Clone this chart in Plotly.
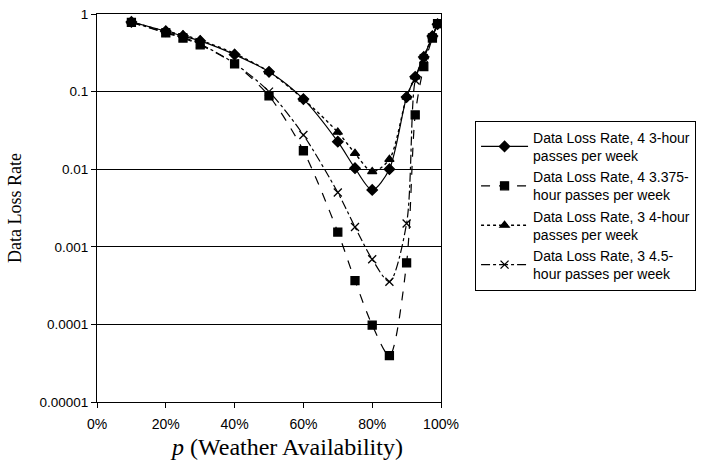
import plotly.graph_objects as go

# Weather availability p (fraction) at which the loss rates were computed
p_values = [0.10, 0.20, 0.25, 0.30, 0.40, 0.50, 0.60, 0.70, 0.75, 0.80,
            0.85, 0.90, 0.925, 0.95, 0.975, 0.99]

loss_4x3h = [0.79, 0.60, 0.52, 0.45, 0.30, 0.18, 0.080, 0.0226, 0.0103, 0.0054,
             0.0100, 0.085, 0.155, 0.28, 0.52, 0.74]
loss_4x3375h = [0.78, 0.57, 0.49, 0.40, 0.227, 0.088, 0.0173, 0.00155, 0.000366, 0.000098,
                0.0000395, 0.00062, 0.050, 0.21, 0.49, 0.75]
loss_3x4h = [0.79, 0.60, 0.54, 0.46, 0.31, 0.18, 0.080, 0.030, 0.016, 0.0093,
             0.0134, 0.085, 0.155, 0.28, 0.52, 0.74]
loss_3x45h = [0.78, 0.58, 0.50, 0.41, 0.23, 0.100, 0.0276, 0.0050, 0.0018, 0.00069,
              0.000355, 0.0020, 0.14, 0.27, 0.50, 0.74]

series_names = [
    "Data Loss Rate, 4 3-hour<br>passes per week",
    "Data Loss Rate, 4 3.375-<br>hour passes per week",
    "Data Loss Rate, 3 4-hour<br>passes per week",
    "Data Loss Rate, 3 4.5-<br>hour passes per week",
]

y_tick_vals = [1e-5, 1e-4, 1e-3, 1e-2, 1e-1, 1]
y_tick_text = ["0.00001", "0.0001", "0.001", "0.01", "0.1", "1"]
x_tick_vals = [0, 0.2, 0.4, 0.6, 0.8, 1.0]
x_tick_text = ["0%", "20%", "40%", "60%", "80%", "100%"]

styles = [
    (loss_4x3h, "solid", "diamond", 8, 1.2),
    (loss_4x3375h, "dash", "square", 8, 1.2),
    (loss_3x4h, "dot", "triangle-up", 8, 1.4),
    (loss_3x45h, "dashdot", "x-thin-open", 8, 1.2),
]

fig = go.Figure()
for (vals, dash, symbol, size, lw), name in zip(styles, series_names):
    fig.add_trace(go.Scatter(
        x=p_values, y=vals, name=name, mode="lines+markers",
        line=dict(color="black", width=lw, dash=dash, shape="spline", smoothing=0.8),
        marker=dict(symbol=symbol, size=size, color="black",
                    line=dict(color="black", width=1.3)),
    ))

# x-axis title, placed as a free annotation below the tick labels
fig.add_annotation(
    text="<i>p</i> (Weather Availability)", xref="paper", yref="paper",
    x=0.552, y=-0.116, xanchor="center", yanchor="middle", showarrow=False,
    font=dict(family="Liberation Serif, Times New Roman", size=24, color="black"),
)

fig.update_layout(
    width=708, height=466,
    margin=dict(l=97, r=267, t=14, b=64, autoexpand=False),
    paper_bgcolor="white", plot_bgcolor="white",
    font=dict(family="Liberation Sans, Arial", size=14, color="black"),
    showlegend=True,
    legend=dict(
        x=1.099, y=0.725, xanchor="left", yanchor="top",
        bordercolor="black", borderwidth=1, bgcolor="white",
        font=dict(family="Liberation Sans, Arial", size=14, color="black"),
        itemwidth=47, tracegroupgap=5,
    ),
    xaxis=dict(
        range=[0, 1], tickvals=x_tick_vals, ticktext=x_tick_text,
        showgrid=False, zeroline=False,
        showline=True, linecolor="black", linewidth=1, mirror=True,
        ticks="outside", ticklen=5, tickcolor="black",
        ticklabelstandoff=4,
        tickfont=dict(size=14),
    ),
    yaxis=dict(
        type="log", range=[-5, 0], tickvals=y_tick_vals, ticktext=y_tick_text,
        showgrid=True, gridcolor="black", gridwidth=1, zeroline=False,
        showline=True, linecolor="black", linewidth=1, mirror=True,
        ticks="outside", ticklen=5, tickcolor="black",
        tickfont=dict(size=13.5),
        title=dict(text="Data Loss Rate",
                   font=dict(family="Liberation Serif, Times New Roman", size=18),
                   standoff=13),
    ),
)

fig.write_html("out.html")
